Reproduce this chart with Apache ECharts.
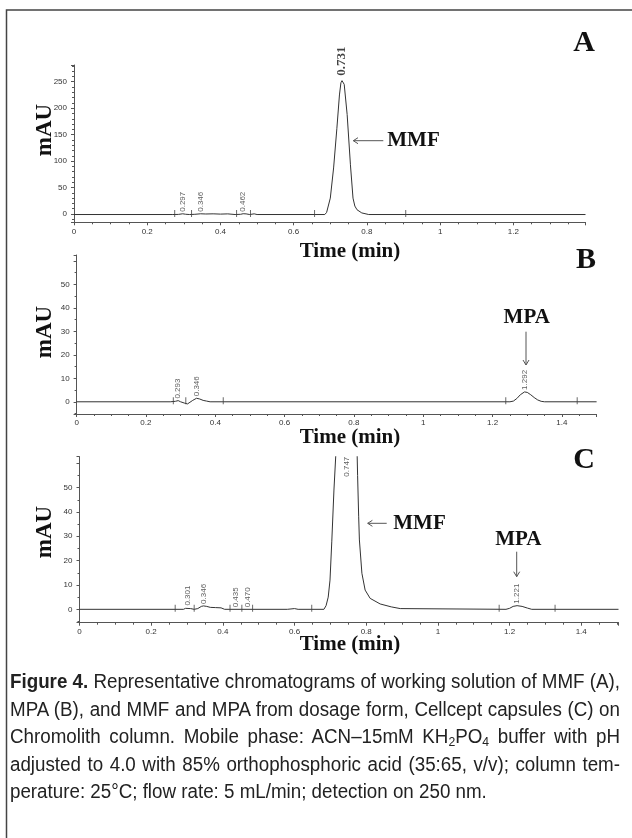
<!DOCTYPE html>
<html>
<head>
<meta charset="utf-8">
<script src="https://cdn.jsdelivr.net/npm/echarts@6/dist/echarts.min.js"></script>
<style>
  html, body { margin: 0; padding: 0; background: #fff; }
  #chart { position: absolute; left: 0; top: 0; width: 632px; height: 838px; }
  #cap { position: absolute; left: 10px; top: 668px; width: 620px;
         font-family: "Liberation Sans Narrow", "Liberation Sans", Arial, sans-serif; font-size: 20px; color: #222; }
  #cap .ln { height: 27.5px; line-height: 27.5px; white-space: nowrap; }
  #cap .ln span { display: inline-block; transform-origin: 0 0; }
  #cap sub { font-size: 13px; line-height: 0; vertical-align: -3px; }
</style>
</head>
<body>
<div id="chart"></div>
<div id="cap">
  <div class="ln"><span><b>Figure 4.</b> Representative chromatograms of working solution of MMF (A),</span></div>
  <div class="ln"><span>MPA (B), and MMF and MPA from dosage form, Cellcept capsules (C) on</span></div>
  <div class="ln"><span>Chromolith column. Mobile phase: ACN–15mM KH<sub>2</sub>PO<sub>4</sub> buffer with pH</span></div>
  <div class="ln"><span>adjusted to 4.0 with 85% orthophosphoric acid (35:65, v/v); column tem-</span></div>
  <div class="ln"><span>perature: 25°C; flow rate: 5 mL/min; detection on 250 nm.</span></div>
</div>
<script>
// ---------- data ----------
// Panel A: MMF working solution
const aTime   = [0, 0.27, 0.285, 0.297, 0.305, 0.315, 0.33, 0.346, 0.36, 0.38, 0.40, 0.42, 0.44, 0.455, 0.462, 0.47, 0.48, 0.492, 0.50, 0.685, 0.69, 0.70, 0.709, 0.718, 0.725, 0.729, 0.732, 0.735, 0.738, 0.746, 0.755, 0.762, 0.767, 0.773, 0.786, 0.805, 1.397];
const aSignal = [-1, -1, -0.8, 0.4, -0.5, -1, -0.6, 0.4, 0, 0.3, -0.2, 0.2, -1, -0.6, 0.5, 0.2, -1, 0.3, -1, -1, 3, 30, 87, 162, 225, 248, 252, 250, 245, 188, 93, 30, 15, 8, 2, -1, -1];
const aEvents = [0.275, 0.321, 0.444, 0.482, 0.657, 0.906];
const aPeakT  = [0.297, 0.346, 0.462];
const aPeakY  = [0.4, 0.4, 0.5];
const aMainT  = [0.731];
const aMainY  = [252];

// Panel B: MPA working solution
const bTime   = [0, 0.27, 0.285, 0.293, 0.30, 0.312, 0.32, 0.327, 0.335, 0.34, 0.346, 0.355, 0.365, 0.375, 0.385, 1.25, 1.26, 1.27, 1.28, 1.292, 1.30, 1.31, 1.32, 1.33, 1.34, 1.35, 1.5];
const bSignal = [0, 0, 0.2, 0.5, 0, -0.6, -0.9, -0.2, 0.6, 1.2, 1.5, 1.2, 0.6, 0.3, 0, 0, 0.3, 1.4, 3.0, 4.2, 4.0, 3.0, 1.8, 0.8, 0.2, 0, 0];
const bEvents = [0.279, 0.315, 0.423, 1.238, 1.444];
const bPeakT  = [0.293, 0.346, 1.292];
const bPeakY  = [0.5, 1.5, 4.2];

// Panel C: Cellcept capsules
const cTime   = [0, 0.29, 0.296, 0.301, 0.31, 0.32, 0.33, 0.34, 0.346, 0.355, 0.365, 0.38, 0.395, 0.40, 0.405, 0.58, 0.585, 0.60, 0.61, 0.682, 0.688, 0.694, 0.699, 0.704, 0.710, 0.715, 0.725, 0.735, 0.747, 0.760, 0.770, 0.776, 0.779, 0.781, 0.788, 0.797, 0.811, 0.839, 0.870, 0.895, 0.90, 1.19, 1.20, 1.21, 1.221, 1.235, 1.25, 1.262, 1.504];
const cSignal = [0, 0, 0.4, 0.7, 0.3, 0, 0.3, 1.2, 1.4, 1.2, 0.8, 0.7, 0.6, 0.2, 0, 0, 0.3, 0.3, 0, 0, 1.5, 5, 12, 28, 49, 63, 130, 195, 230, 180, 95, 55, 38, 28.5, 14.8, 7.9, 4.5, 2.2, 1.0, 0.3, 0, 0, 0.4, 1.2, 1.5, 1.2, 0.5, 0, 0];
const cEvents = [0.267, 0.320, 0.420, 0.453, 0.483, 0.648, 1.171, 1.327];
const cPeakT  = [0.301, 0.346, 0.435, 0.470, 1.221];
const cPeakY  = [0.7, 1.4, 0, 0, 1.5];
const cTopT   = [0.747];

// axis ranges
const xMax = [1.397, 1.5, 1.504];
const yMin = [-15.7, -5.2, -5.5];
const yMax = [281.6, 62.5, 62.7];
const yStep = [50, 10, 10];
const yLabelTop = [250, 50, 50];
const yMinorSplit = [5, 2, 2];
const baseLevel = [-1, 0, 0];

// ---------- chart ----------
const chart = echarts.init(document.getElementById('chart'), null, { renderer: 'canvas' });
const axisGray = '#555';
const traceColor = '#333';
const serif = '"Liberation Serif", "Times New Roman", serif';
const sans = '"Liberation Sans", Arial, sans-serif';

const grids = [
  { left: 74,   top: 65,    width: 511.5, height: 157.3 },
  { left: 76.6, top: 255,   width: 520,   height: 159 },
  { left: 79.5, top: 456.7, width: 539,   height: 166 }
].map(g => Object.assign({ containLabel: false, outerBoundsMode: 'none' }, g));

const xAxes = [0, 1, 2].map(i => ({
  type: 'value', gridIndex: i, min: 0, max: xMax[i],
  splitNumber: 7, minInterval: 0.2, maxInterval: 0.2,
  axisLine: { show: true, onZero: false, lineStyle: { color: axisGray, width: 1 } },
  axisTick: { show: true, length: 3, lineStyle: { color: axisGray } },
  minorTick: { show: true, splitNumber: 4, length: 2, lineStyle: { color: axisGray } },
  splitLine: { show: false },
  axisLabel: { fontSize: 8, color: '#333', fontFamily: sans, margin: 5, showMaxLabel: false }
}));

const yAxes = [0, 1, 2].map(i => ({
  type: 'value', gridIndex: i, min: yMin[i], max: yMax[i],
  splitNumber: 6, minInterval: yStep[i], maxInterval: yStep[i],
  axisLine: { show: true, onZero: false, lineStyle: { color: axisGray, width: 1 } },
  axisTick: { show: true, length: 3, lineStyle: { color: axisGray } },
  minorTick: { show: true, splitNumber: yMinorSplit[i], length: 2, lineStyle: { color: axisGray } },
  splitLine: { show: false },
  axisLabel: { fontSize: 8, color: '#333', fontFamily: sans, margin: 7, showMinLabel: false, showMaxLabel: false,
    formatter: v => (v > yLabelTop[i] ? '' : String(v)) }
}));

function zip(xs, ys) { return xs.map((x, k) => [x, ys[k]]); }

function traceSeries(i, xs, ys) {
  return { type: 'line', xAxisIndex: i, yAxisIndex: i, data: zip(xs, ys),
    symbol: 'none', showSymbol: false, clip: true, silent: true, z: 3,
    lineStyle: { color: traceColor, width: 1 } };
}
function eventSeries(i, xs) {
  return { type: 'scatter', xAxisIndex: i, yAxisIndex: i,
    data: xs.map(x => [x, baseLevel[i]]), symbol: 'rect', symbolSize: [1, 7], symbolOffset: [0, -1],
    itemStyle: { color: '#444' }, silent: true, z: 4 };
}
function labelSeries(i, xs, ys, lab) {
  return { type: 'scatter', xAxisIndex: i, yAxisIndex: i, data: zip(xs, ys),
    symbolSize: 0, itemStyle: { color: 'rgba(0,0,0,0)' }, silent: true, z: 5,
    label: Object.assign({ show: true, position: 'top', distance: 2, rotate: 90,
      align: 'left', verticalAlign: 'middle', fontSize: 8, color: '#333', fontFamily: sans,
      formatter: p => p.value[0].toFixed(3) }, lab || {}) };
}

const series = [
  traceSeries(0, aTime, aSignal), eventSeries(0, aEvents), labelSeries(0, aPeakT, aPeakY),
  labelSeries(0, aMainT, aMainY, { fontSize: 13, fontWeight: 'bold', fontFamily: serif, color: '#111', distance: 5 }),
  traceSeries(1, bTime, bSignal), eventSeries(1, bEvents), labelSeries(1, bPeakT, bPeakY),
  traceSeries(2, cTime, cSignal), eventSeries(2, cEvents), labelSeries(2, cPeakT, cPeakY),
  labelSeries(2, cTopT, cTopT.map(() => yMax[2]), { position: 'bottom', distance: 1, align: 'right', offset: [1, 0] })
];

// ---------- annotations ----------
const boldText = (txt, x, y, size, extra, align) => Object.assign({
  type: 'text', x: x, y: y, silent: true, z: 10,
  style: { text: txt, font: 'bold ' + size + 'px ' + serif, fill: '#111', align: align || 'center', verticalAlign: 'middle' }
}, extra || {});
const line = (pts) => ({ type: 'polyline', silent: true, z: 10, shape: { points: pts },
  style: { stroke: '#555', lineWidth: 1, fill: null } });

const graphic = [
  { type: 'polyline', silent: true, shape: { points: [[6.5, 838], [6.5, 10], [632, 10]] },
    style: { stroke: '#444', lineWidth: 1.5, fill: null } },
  boldText('A', 584, 43, 30), boldText('B', 586, 260, 30), boldText('C', 584, 460, 30),
  boldText('mAU', 45, 130, 23, { rotation: Math.PI / 2 }),
  boldText('mAU', 45, 332, 23, { rotation: Math.PI / 2 }),
  boldText('mAU', 45, 532, 23, { rotation: Math.PI / 2 }),
  boldText('Time (min)', 350, 252, 21),
  boldText('Time (min)', 350, 438, 21),
  boldText('Time (min)', 350, 645, 21),
  // MMF (A)
  line([[353.3, 140.7], [383.3, 140.7]]), line([[358, 137.7], [353.3, 140.7], [358, 143.7]]),
  boldText('MMF', 387.3, 141, 21, null, 'left'),
  // MPA (B)
  boldText('MPA', 526.7, 318, 21),
  line([[526, 331.7], [526, 365]]), line([[523, 360], [526, 365], [529, 360]]),
  // MMF (C)
  line([[367.7, 523.3], [386.7, 523.3]]), line([[372.4, 520.3], [367.7, 523.3], [372.4, 526.3]]),
  boldText('MMF', 393.3, 523.5, 21, null, 'left'),
  // MPA (C)
  boldText('MPA', 518.3, 540, 21),
  line([[516.7, 551.7], [516.7, 576.7]]), line([[513.7, 571.7], [516.7, 576.7], [519.7, 571.7]])
];

chart.setOption({
  animation: false,
  backgroundColor: 'transparent',
  grid: grids, xAxis: xAxes, yAxis: yAxes, series: series, graphic: graphic
});

// ---------- caption justification ----------
(function () {
  const W = 610;
  const spans = Array.from(document.querySelectorAll('#cap .ln span'));
  const widths = spans.map(s => s.getBoundingClientRect().width);
  let s = Infinity;
  for (let i = 0; i < 4; i++) s = Math.min(s, W / widths[i]);
  spans.forEach((sp, i) => {
    if (i < 4) {
      const spaces = (sp.textContent.match(/ /g) || []).length;
      sp.style.wordSpacing = ((W / s - widths[i]) / spaces) + 'px';
    }
    sp.style.transform = 'scaleX(' + s + ')';
  });
})();
</script>
</body>
</html>
